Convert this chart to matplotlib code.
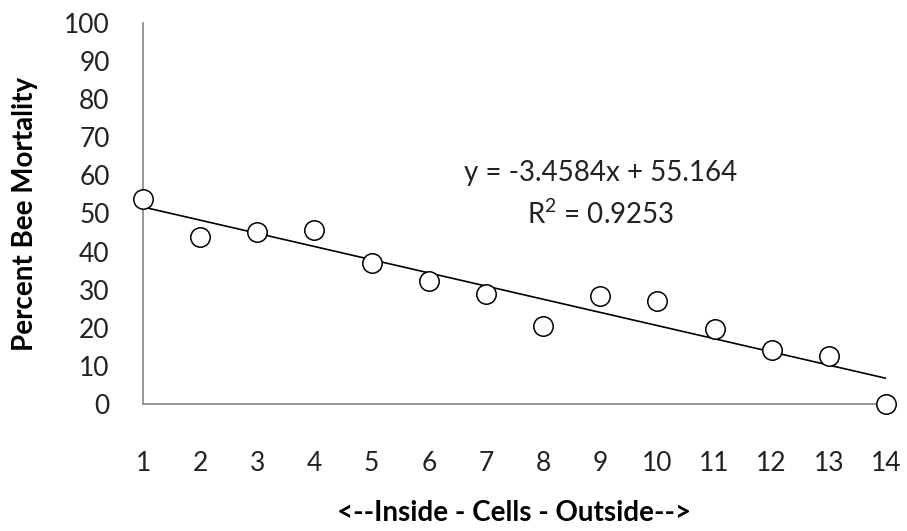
import numpy as np
import matplotlib
matplotlib.use("Agg")
import matplotlib.pyplot as plt

# cell position (inside -> outside) and percent bee mortality
cells = np.arange(1, 15)
mortality = [53.9, 43.9, 45.2, 45.6, 37.0, 32.4, 28.9, 20.4, 28.3, 26.9, 19.7, 14.1, 12.5, 0.0]
slope, intercept = -3.4584, 55.164
eq_text = "y = -3.4584x + 55.164\nR$^2$ = 0.9253"

plt.rcParams["font.family"] = ["Lato", "DejaVu Sans"]
plt.rcParams["mathtext.default"] = "regular"
GREY = "#868686"

fig = plt.figure(figsize=(9.07, 5.31), dpi=100)
ax = fig.add_axes([0.1577, 0.2392, 0.8191, 0.7175])

trend = intercept + slope * cells
ax.plot(cells[[0, -1]], trend[[0, -1]], color="black", lw=1.2, zorder=2)
ax.plot(cells, mortality, ls="none", marker="o", ms=14, mfc="white",
        mec="black", mew=1.1, zorder=3, clip_on=False)

ax.set_xlim(1, 14)
ax.set_ylim(0, 100)
ax.set_xticks(cells)
ax.set_yticks(np.arange(0, 101, 10))
ax.tick_params(length=0, labelsize=19, colors="#222222")
ax.tick_params(axis="x", pad=34)
ax.tick_params(axis="y", pad=24)
ax.spines[["top", "right"]].set_visible(False)
for s in ("left", "bottom"):
    ax.spines[s].set_color(GREY)
    ax.spines[s].set_linewidth(1.2)

ax.set_ylabel("Percent Bee Mortality", fontsize=20, fontweight="bold", va="center")
ax.yaxis.set_label_coords(-0.159, 0.5)
ax.set_xlabel("<--Inside - Cells - Outside-->", fontsize=20, fontweight="bold",
              va="center")
ax.xaxis.set_label_coords(0.5, -0.286)

ax.text(9.0, 55.0, eq_text, ha="center", va="center", fontsize=20,
        color="#222222", linespacing=1.55)

fig.savefig("out.png", dpi=100)
